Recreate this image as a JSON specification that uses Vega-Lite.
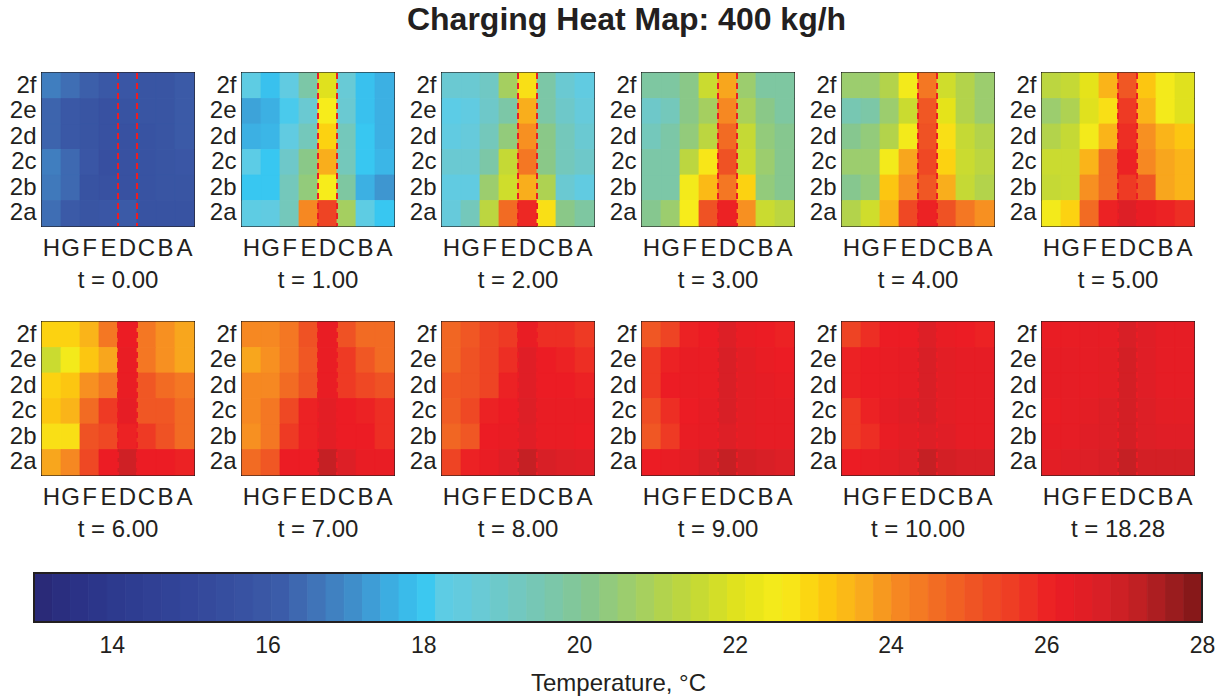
{
  "$schema": "https://vega.github.io/schema/vega-lite/v6.json",
  "padding": {"left": 8, "top": 4, "right": 4, "bottom": 4},
  "background": "white",
  "title": {"text": "Charging Heat Map: 400 kg/h", "fontSize": 32, "font": "Liberation Sans", "fontWeight": "bold", "color": "#231f20", "anchor": "middle", "offset": 34, "dx": 15},
  "config": {
    "font": "Liberation Sans",
    "view": {"stroke": "#231f20", "strokeWidth": 2},
    "axis": {"labelColor": "#231f20", "tickColor": "#231f20", "domain": false, "grid": false, "zindex": 1}
  },
  "datasets": {
    "cells": [
      {"t":0,"r":"2f","c":"H","v":16.7},{"t":0,"r":"2f","c":"G","v":16.4},{"t":0,"r":"2f","c":"F","v":16.1},{"t":0,"r":"2f","c":"E","v":15.9},{"t":0,"r":"2f","c":"D","v":15.8},{"t":0,"r":"2f","c":"C","v":15.7},{"t":0,"r":"2f","c":"B","v":15.7},{"t":0,"r":"2f","c":"A","v":16.0},
      {"t":0,"r":"2e","c":"H","v":16.2},{"t":0,"r":"2e","c":"G","v":15.9},{"t":0,"r":"2e","c":"F","v":15.7},{"t":0,"r":"2e","c":"E","v":15.5},{"t":0,"r":"2e","c":"D","v":15.6},{"t":0,"r":"2e","c":"C","v":15.7},{"t":0,"r":"2e","c":"B","v":15.7},{"t":0,"r":"2e","c":"A","v":16.0},
      {"t":0,"r":"2d","c":"H","v":16.2},{"t":0,"r":"2d","c":"G","v":15.9},{"t":0,"r":"2d","c":"F","v":15.7},{"t":0,"r":"2d","c":"E","v":15.5},{"t":0,"r":"2d","c":"D","v":15.5},{"t":0,"r":"2d","c":"C","v":15.6},{"t":0,"r":"2d","c":"B","v":15.7},{"t":0,"r":"2d","c":"A","v":16.0},
      {"t":0,"r":"2c","c":"H","v":16.7},{"t":0,"r":"2c","c":"G","v":16.3},{"t":0,"r":"2c","c":"F","v":15.8},{"t":0,"r":"2c","c":"E","v":15.4},{"t":0,"r":"2c","c":"D","v":15.5},{"t":0,"r":"2c","c":"C","v":15.6},{"t":0,"r":"2c","c":"B","v":15.7},{"t":0,"r":"2c","c":"A","v":15.8},
      {"t":0,"r":"2b","c":"H","v":16.6},{"t":0,"r":"2b","c":"G","v":16.3},{"t":0,"r":"2b","c":"F","v":15.6},{"t":0,"r":"2b","c":"E","v":15.5},{"t":0,"r":"2b","c":"D","v":15.5},{"t":0,"r":"2b","c":"C","v":15.6},{"t":0,"r":"2b","c":"B","v":15.7},{"t":0,"r":"2b","c":"A","v":15.7},
      {"t":0,"r":"2a","c":"H","v":16.4},{"t":0,"r":"2a","c":"G","v":16.0},{"t":0,"r":"2a","c":"F","v":15.7},{"t":0,"r":"2a","c":"E","v":15.8},{"t":0,"r":"2a","c":"D","v":16.0},{"t":0,"r":"2a","c":"C","v":15.6},{"t":0,"r":"2a","c":"B","v":15.6},{"t":0,"r":"2a","c":"A","v":15.6},

      {"t":1,"r":"2f","c":"H","v":18.2},{"t":1,"r":"2f","c":"G","v":17.8},{"t":1,"r":"2f","c":"F","v":18.3},{"t":1,"r":"2f","c":"E","v":19.6},{"t":1,"r":"2f","c":"D","v":21.9},{"t":1,"r":"2f","c":"C","v":18.6},{"t":1,"r":"2f","c":"B","v":17.8},{"t":1,"r":"2f","c":"A","v":17.5},
      {"t":1,"r":"2e","c":"H","v":17.3},{"t":1,"r":"2e","c":"G","v":17.5},{"t":1,"r":"2e","c":"F","v":18.0},{"t":1,"r":"2e","c":"E","v":18.7},{"t":1,"r":"2e","c":"D","v":22.5},{"t":1,"r":"2e","c":"C","v":18.7},{"t":1,"r":"2e","c":"B","v":17.8},{"t":1,"r":"2e","c":"A","v":17.5},
      {"t":1,"r":"2d","c":"H","v":17.5},{"t":1,"r":"2d","c":"G","v":17.6},{"t":1,"r":"2d","c":"F","v":18.3},{"t":1,"r":"2d","c":"E","v":19.2},{"t":1,"r":"2d","c":"D","v":22.9},{"t":1,"r":"2d","c":"C","v":19.2},{"t":1,"r":"2d","c":"B","v":17.9},{"t":1,"r":"2d","c":"A","v":17.5},
      {"t":1,"r":"2c","c":"H","v":18.1},{"t":1,"r":"2c","c":"G","v":17.9},{"t":1,"r":"2c","c":"F","v":18.9},{"t":1,"r":"2c","c":"E","v":20.1},{"t":1,"r":"2c","c":"D","v":23.5},{"t":1,"r":"2c","c":"C","v":19.2},{"t":1,"r":"2c","c":"B","v":17.9},{"t":1,"r":"2c","c":"A","v":17.6},
      {"t":1,"r":"2b","c":"H","v":17.9},{"t":1,"r":"2b","c":"G","v":17.9},{"t":1,"r":"2b","c":"F","v":19.2},{"t":1,"r":"2b","c":"E","v":20.3},{"t":1,"r":"2b","c":"D","v":22.5},{"t":1,"r":"2b","c":"C","v":19.7},{"t":1,"r":"2b","c":"B","v":17.5},{"t":1,"r":"2b","c":"A","v":17.1},
      {"t":1,"r":"2a","c":"H","v":18.2},{"t":1,"r":"2a","c":"G","v":18.3},{"t":1,"r":"2a","c":"F","v":19.2},{"t":1,"r":"2a","c":"E","v":24.0},{"t":1,"r":"2a","c":"D","v":25.3},{"t":1,"r":"2a","c":"C","v":20.7},{"t":1,"r":"2a","c":"B","v":18.2},{"t":1,"r":"2a","c":"A","v":17.9},

      {"t":2,"r":"2f","c":"H","v":18.7},{"t":2,"r":"2f","c":"G","v":18.7},{"t":2,"r":"2f","c":"F","v":19.0},{"t":2,"r":"2f","c":"E","v":20.7},{"t":2,"r":"2f","c":"D","v":22.7},{"t":2,"r":"2f","c":"C","v":19.6},{"t":2,"r":"2f","c":"B","v":18.7},{"t":2,"r":"2f","c":"A","v":18.3},
      {"t":2,"r":"2e","c":"H","v":18.1},{"t":2,"r":"2e","c":"G","v":18.3},{"t":2,"r":"2e","c":"F","v":18.9},{"t":2,"r":"2e","c":"E","v":19.6},{"t":2,"r":"2e","c":"D","v":23.5},{"t":2,"r":"2e","c":"C","v":19.6},{"t":2,"r":"2e","c":"B","v":18.9},{"t":2,"r":"2e","c":"A","v":18.5},
      {"t":2,"r":"2d","c":"H","v":18.3},{"t":2,"r":"2d","c":"G","v":18.5},{"t":2,"r":"2d","c":"F","v":19.2},{"t":2,"r":"2d","c":"E","v":20.3},{"t":2,"r":"2d","c":"D","v":23.9},{"t":2,"r":"2d","c":"C","v":20.1},{"t":2,"r":"2d","c":"B","v":19.2},{"t":2,"r":"2d","c":"A","v":18.7},
      {"t":2,"r":"2c","c":"H","v":18.7},{"t":2,"r":"2c","c":"G","v":18.7},{"t":2,"r":"2c","c":"F","v":19.6},{"t":2,"r":"2c","c":"E","v":21.4},{"t":2,"r":"2c","c":"D","v":24.3},{"t":2,"r":"2c","c":"C","v":20.1},{"t":2,"r":"2c","c":"B","v":19.2},{"t":2,"r":"2c","c":"A","v":18.9},
      {"t":2,"r":"2b","c":"H","v":18.3},{"t":2,"r":"2b","c":"G","v":18.3},{"t":2,"r":"2b","c":"F","v":20.5},{"t":2,"r":"2b","c":"E","v":21.6},{"t":2,"r":"2b","c":"D","v":23.5},{"t":2,"r":"2b","c":"C","v":20.9},{"t":2,"r":"2b","c":"B","v":18.7},{"t":2,"r":"2b","c":"A","v":18.3},
      {"t":2,"r":"2a","c":"H","v":18.5},{"t":2,"r":"2a","c":"G","v":19.2},{"t":2,"r":"2a","c":"F","v":21.2},{"t":2,"r":"2a","c":"E","v":24.5},{"t":2,"r":"2a","c":"D","v":25.8},{"t":2,"r":"2a","c":"C","v":22.7},{"t":2,"r":"2a","c":"B","v":20.1},{"t":2,"r":"2a","c":"A","v":19.7},

      {"t":3,"r":"2f","c":"H","v":19.7},{"t":3,"r":"2f","c":"G","v":19.7},{"t":3,"r":"2f","c":"F","v":20.1},{"t":3,"r":"2f","c":"E","v":21.5},{"t":3,"r":"2f","c":"D","v":23.6},{"t":3,"r":"2f","c":"C","v":20.5},{"t":3,"r":"2f","c":"B","v":19.7},{"t":3,"r":"2f","c":"A","v":19.7},
      {"t":3,"r":"2e","c":"H","v":18.9},{"t":3,"r":"2e","c":"G","v":19.2},{"t":3,"r":"2e","c":"F","v":20.1},{"t":3,"r":"2e","c":"E","v":20.7},{"t":3,"r":"2e","c":"D","v":24.0},{"t":3,"r":"2e","c":"C","v":20.8},{"t":3,"r":"2e","c":"B","v":20.1},{"t":3,"r":"2e","c":"A","v":19.7},
      {"t":3,"r":"2d","c":"H","v":19.2},{"t":3,"r":"2d","c":"G","v":19.6},{"t":3,"r":"2d","c":"F","v":20.3},{"t":3,"r":"2d","c":"E","v":21.2},{"t":3,"r":"2d","c":"D","v":24.5},{"t":3,"r":"2d","c":"C","v":21.4},{"t":3,"r":"2d","c":"B","v":20.3},{"t":3,"r":"2d","c":"A","v":20.0},
      {"t":3,"r":"2c","c":"H","v":19.6},{"t":3,"r":"2c","c":"G","v":19.6},{"t":3,"r":"2c","c":"F","v":21.2},{"t":3,"r":"2c","c":"E","v":22.6},{"t":3,"r":"2c","c":"D","v":25.0},{"t":3,"r":"2c","c":"C","v":21.5},{"t":3,"r":"2c","c":"B","v":20.5},{"t":3,"r":"2c","c":"A","v":20.0},
      {"t":3,"r":"2b","c":"H","v":19.6},{"t":3,"r":"2b","c":"G","v":19.6},{"t":3,"r":"2b","c":"F","v":22.4},{"t":3,"r":"2b","c":"E","v":23.3},{"t":3,"r":"2b","c":"D","v":24.3},{"t":3,"r":"2b","c":"C","v":22.9},{"t":3,"r":"2b","c":"B","v":20.3},{"t":3,"r":"2b","c":"A","v":20.0},
      {"t":3,"r":"2a","c":"H","v":20.0},{"t":3,"r":"2a","c":"G","v":20.5},{"t":3,"r":"2a","c":"F","v":22.5},{"t":3,"r":"2a","c":"E","v":25.0},{"t":3,"r":"2a","c":"D","v":25.9},{"t":3,"r":"2a","c":"C","v":23.9},{"t":3,"r":"2a","c":"B","v":21.5},{"t":3,"r":"2a","c":"A","v":21.2},

      {"t":4,"r":"2f","c":"H","v":20.5},{"t":4,"r":"2f","c":"G","v":20.5},{"t":4,"r":"2f","c":"F","v":21.0},{"t":4,"r":"2f","c":"E","v":22.4},{"t":4,"r":"2f","c":"D","v":24.3},{"t":4,"r":"2f","c":"C","v":21.6},{"t":4,"r":"2f","c":"B","v":21.0},{"t":4,"r":"2f","c":"A","v":20.5},
      {"t":4,"r":"2e","c":"H","v":19.4},{"t":4,"r":"2e","c":"G","v":19.6},{"t":4,"r":"2e","c":"F","v":20.5},{"t":4,"r":"2e","c":"E","v":21.5},{"t":4,"r":"2e","c":"D","v":24.9},{"t":4,"r":"2e","c":"C","v":22.0},{"t":4,"r":"2e","c":"B","v":21.0},{"t":4,"r":"2e","c":"A","v":20.5},
      {"t":4,"r":"2d","c":"H","v":20.0},{"t":4,"r":"2d","c":"G","v":20.3},{"t":4,"r":"2d","c":"F","v":21.0},{"t":4,"r":"2d","c":"E","v":22.4},{"t":4,"r":"2d","c":"D","v":25.0},{"t":4,"r":"2d","c":"C","v":22.7},{"t":4,"r":"2d","c":"B","v":21.4},{"t":4,"r":"2d","c":"A","v":21.0},
      {"t":4,"r":"2c","c":"H","v":20.5},{"t":4,"r":"2c","c":"G","v":20.5},{"t":4,"r":"2c","c":"F","v":22.4},{"t":4,"r":"2c","c":"E","v":23.6},{"t":4,"r":"2c","c":"D","v":25.2},{"t":4,"r":"2c","c":"C","v":22.9},{"t":4,"r":"2c","c":"B","v":21.5},{"t":4,"r":"2c","c":"A","v":21.2},
      {"t":4,"r":"2b","c":"H","v":20.0},{"t":4,"r":"2b","c":"G","v":20.3},{"t":4,"r":"2b","c":"F","v":23.1},{"t":4,"r":"2b","c":"E","v":23.9},{"t":4,"r":"2b","c":"D","v":24.9},{"t":4,"r":"2b","c":"C","v":23.5},{"t":4,"r":"2b","c":"B","v":21.4},{"t":4,"r":"2b","c":"A","v":21.0},
      {"t":4,"r":"2a","c":"H","v":21.0},{"t":4,"r":"2a","c":"G","v":21.6},{"t":4,"r":"2a","c":"F","v":23.4},{"t":4,"r":"2a","c":"E","v":25.2},{"t":4,"r":"2a","c":"D","v":25.9},{"t":4,"r":"2a","c":"C","v":25.0},{"t":4,"r":"2a","c":"B","v":24.3},{"t":4,"r":"2a","c":"A","v":23.9},

      {"t":5,"r":"2f","c":"H","v":21.2},{"t":5,"r":"2f","c":"G","v":21.4},{"t":5,"r":"2f","c":"F","v":22.0},{"t":5,"r":"2f","c":"E","v":23.4},{"t":5,"r":"2f","c":"D","v":24.9},{"t":5,"r":"2f","c":"C","v":23.1},{"t":5,"r":"2f","c":"B","v":22.4},{"t":5,"r":"2f","c":"A","v":21.9},
      {"t":5,"r":"2e","c":"H","v":20.5},{"t":5,"r":"2e","c":"G","v":20.9},{"t":5,"r":"2e","c":"F","v":21.9},{"t":5,"r":"2e","c":"E","v":22.7},{"t":5,"r":"2e","c":"D","v":25.5},{"t":5,"r":"2e","c":"C","v":23.4},{"t":5,"r":"2e","c":"B","v":22.4},{"t":5,"r":"2e","c":"A","v":21.9},
      {"t":5,"r":"2d","c":"H","v":21.0},{"t":5,"r":"2d","c":"G","v":21.4},{"t":5,"r":"2d","c":"F","v":22.4},{"t":5,"r":"2d","c":"E","v":23.4},{"t":5,"r":"2d","c":"D","v":25.7},{"t":5,"r":"2d","c":"C","v":23.9},{"t":5,"r":"2d","c":"B","v":23.4},{"t":5,"r":"2d","c":"A","v":23.1},
      {"t":5,"r":"2c","c":"H","v":21.5},{"t":5,"r":"2c","c":"G","v":21.5},{"t":5,"r":"2c","c":"F","v":23.4},{"t":5,"r":"2c","c":"E","v":24.5},{"t":5,"r":"2c","c":"D","v":25.9},{"t":5,"r":"2c","c":"C","v":24.0},{"t":5,"r":"2c","c":"B","v":23.6},{"t":5,"r":"2c","c":"A","v":23.4},
      {"t":5,"r":"2b","c":"H","v":21.4},{"t":5,"r":"2b","c":"G","v":21.5},{"t":5,"r":"2b","c":"F","v":23.9},{"t":5,"r":"2b","c":"E","v":24.5},{"t":5,"r":"2b","c":"D","v":25.5},{"t":5,"r":"2b","c":"C","v":24.9},{"t":5,"r":"2b","c":"B","v":23.6},{"t":5,"r":"2b","c":"A","v":23.4},
      {"t":5,"r":"2a","c":"H","v":22.4},{"t":5,"r":"2a","c":"G","v":22.9},{"t":5,"r":"2a","c":"F","v":24.5},{"t":5,"r":"2a","c":"E","v":25.9},{"t":5,"r":"2a","c":"D","v":26.5},{"t":5,"r":"2a","c":"C","v":26.1},{"t":5,"r":"2a","c":"B","v":25.9},{"t":5,"r":"2a","c":"A","v":25.7},

      {"t":6,"r":"2f","c":"H","v":22.9},{"t":6,"r":"2f","c":"G","v":22.9},{"t":6,"r":"2f","c":"F","v":23.4},{"t":6,"r":"2f","c":"E","v":24.3},{"t":6,"r":"2f","c":"D","v":26.0},{"t":6,"r":"2f","c":"C","v":24.3},{"t":6,"r":"2f","c":"B","v":23.9},{"t":6,"r":"2f","c":"A","v":23.6},
      {"t":6,"r":"2e","c":"H","v":21.5},{"t":6,"r":"2e","c":"G","v":22.4},{"t":6,"r":"2e","c":"F","v":23.1},{"t":6,"r":"2e","c":"E","v":23.6},{"t":6,"r":"2e","c":"D","v":26.1},{"t":6,"r":"2e","c":"C","v":24.3},{"t":6,"r":"2e","c":"B","v":23.9},{"t":6,"r":"2e","c":"A","v":23.6},
      {"t":6,"r":"2d","c":"H","v":22.9},{"t":6,"r":"2d","c":"G","v":23.1},{"t":6,"r":"2d","c":"F","v":23.9},{"t":6,"r":"2d","c":"E","v":24.3},{"t":6,"r":"2d","c":"D","v":26.1},{"t":6,"r":"2d","c":"C","v":24.9},{"t":6,"r":"2d","c":"B","v":24.5},{"t":6,"r":"2d","c":"A","v":24.3},
      {"t":6,"r":"2c","c":"H","v":23.1},{"t":6,"r":"2c","c":"G","v":23.4},{"t":6,"r":"2c","c":"F","v":24.5},{"t":6,"r":"2c","c":"E","v":25.5},{"t":6,"r":"2c","c":"D","v":26.2},{"t":6,"r":"2c","c":"C","v":24.9},{"t":6,"r":"2c","c":"B","v":24.9},{"t":6,"r":"2c","c":"A","v":24.5},
      {"t":6,"r":"2b","c":"H","v":22.7},{"t":6,"r":"2b","c":"G","v":22.7},{"t":6,"r":"2b","c":"F","v":25.0},{"t":6,"r":"2b","c":"E","v":25.2},{"t":6,"r":"2b","c":"D","v":25.9},{"t":6,"r":"2b","c":"C","v":25.5},{"t":6,"r":"2b","c":"B","v":25.0},{"t":6,"r":"2b","c":"A","v":24.5},
      {"t":6,"r":"2a","c":"H","v":23.6},{"t":6,"r":"2a","c":"G","v":24.0},{"t":6,"r":"2a","c":"F","v":25.2},{"t":6,"r":"2a","c":"E","v":26.0},{"t":6,"r":"2a","c":"D","v":26.8},{"t":6,"r":"2a","c":"C","v":26.0},{"t":6,"r":"2a","c":"B","v":26.0},{"t":6,"r":"2a","c":"A","v":25.9},

      {"t":7,"r":"2f","c":"H","v":24.0},{"t":7,"r":"2f","c":"G","v":24.0},{"t":7,"r":"2f","c":"F","v":24.3},{"t":7,"r":"2f","c":"E","v":25.0},{"t":7,"r":"2f","c":"D","v":26.1},{"t":7,"r":"2f","c":"C","v":25.0},{"t":7,"r":"2f","c":"B","v":24.5},{"t":7,"r":"2f","c":"A","v":24.5},
      {"t":7,"r":"2e","c":"H","v":23.6},{"t":7,"r":"2e","c":"G","v":23.9},{"t":7,"r":"2e","c":"F","v":24.3},{"t":7,"r":"2e","c":"E","v":24.9},{"t":7,"r":"2e","c":"D","v":26.1},{"t":7,"r":"2e","c":"C","v":25.5},{"t":7,"r":"2e","c":"B","v":24.9},{"t":7,"r":"2e","c":"A","v":24.5},
      {"t":7,"r":"2d","c":"H","v":24.0},{"t":7,"r":"2d","c":"G","v":24.0},{"t":7,"r":"2d","c":"F","v":24.5},{"t":7,"r":"2d","c":"E","v":25.0},{"t":7,"r":"2d","c":"D","v":26.1},{"t":7,"r":"2d","c":"C","v":25.5},{"t":7,"r":"2d","c":"B","v":25.2},{"t":7,"r":"2d","c":"A","v":25.0},
      {"t":7,"r":"2c","c":"H","v":24.0},{"t":7,"r":"2c","c":"G","v":24.3},{"t":7,"r":"2c","c":"F","v":25.2},{"t":7,"r":"2c","c":"E","v":25.9},{"t":7,"r":"2c","c":"D","v":26.3},{"t":7,"r":"2c","c":"C","v":26.0},{"t":7,"r":"2c","c":"B","v":25.9},{"t":7,"r":"2c","c":"A","v":25.7},
      {"t":7,"r":"2b","c":"H","v":23.9},{"t":7,"r":"2b","c":"G","v":24.3},{"t":7,"r":"2b","c":"F","v":25.5},{"t":7,"r":"2b","c":"E","v":25.9},{"t":7,"r":"2b","c":"D","v":26.3},{"t":7,"r":"2b","c":"C","v":26.0},{"t":7,"r":"2b","c":"B","v":26.0},{"t":7,"r":"2b","c":"A","v":25.7},
      {"t":7,"r":"2a","c":"H","v":24.5},{"t":7,"r":"2a","c":"G","v":24.9},{"t":7,"r":"2a","c":"F","v":26.0},{"t":7,"r":"2a","c":"E","v":26.0},{"t":7,"r":"2a","c":"D","v":27.0},{"t":7,"r":"2a","c":"C","v":26.5},{"t":7,"r":"2a","c":"B","v":26.1},{"t":7,"r":"2a","c":"A","v":26.1},

      {"t":8,"r":"2f","c":"H","v":24.6},{"t":8,"r":"2f","c":"G","v":24.9},{"t":8,"r":"2f","c":"F","v":25.3},{"t":8,"r":"2f","c":"E","v":25.5},{"t":8,"r":"2f","c":"D","v":26.1},{"t":8,"r":"2f","c":"C","v":25.7},{"t":8,"r":"2f","c":"B","v":25.7},{"t":8,"r":"2f","c":"A","v":25.5},
      {"t":8,"r":"2e","c":"H","v":24.6},{"t":8,"r":"2e","c":"G","v":25.0},{"t":8,"r":"2e","c":"F","v":25.3},{"t":8,"r":"2e","c":"E","v":25.7},{"t":8,"r":"2e","c":"D","v":26.4},{"t":8,"r":"2e","c":"C","v":26.0},{"t":8,"r":"2e","c":"B","v":25.9},{"t":8,"r":"2e","c":"A","v":25.7},
      {"t":8,"r":"2d","c":"H","v":24.9},{"t":8,"r":"2d","c":"G","v":25.0},{"t":8,"r":"2d","c":"F","v":25.3},{"t":8,"r":"2d","c":"E","v":25.9},{"t":8,"r":"2d","c":"D","v":26.4},{"t":8,"r":"2d","c":"C","v":26.0},{"t":8,"r":"2d","c":"B","v":26.0},{"t":8,"r":"2d","c":"A","v":25.9},
      {"t":8,"r":"2c","c":"H","v":24.8},{"t":8,"r":"2c","c":"G","v":25.2},{"t":8,"r":"2c","c":"F","v":25.9},{"t":8,"r":"2c","c":"E","v":26.0},{"t":8,"r":"2c","c":"D","v":26.5},{"t":8,"r":"2c","c":"C","v":26.1},{"t":8,"r":"2c","c":"B","v":26.1},{"t":8,"r":"2c","c":"A","v":26.1},
      {"t":8,"r":"2b","c":"H","v":24.6},{"t":8,"r":"2b","c":"G","v":24.9},{"t":8,"r":"2b","c":"F","v":26.0},{"t":8,"r":"2b","c":"E","v":26.1},{"t":8,"r":"2b","c":"D","v":26.4},{"t":8,"r":"2b","c":"C","v":26.1},{"t":8,"r":"2b","c":"B","v":26.1},{"t":8,"r":"2b","c":"A","v":26.0},
      {"t":8,"r":"2a","c":"H","v":25.3},{"t":8,"r":"2a","c":"G","v":25.9},{"t":8,"r":"2a","c":"F","v":26.1},{"t":8,"r":"2a","c":"E","v":26.4},{"t":8,"r":"2a","c":"D","v":27.0},{"t":8,"r":"2a","c":"C","v":26.6},{"t":8,"r":"2a","c":"B","v":26.5},{"t":8,"r":"2a","c":"A","v":26.4},

      {"t":9,"r":"2f","c":"H","v":24.9},{"t":9,"r":"2f","c":"G","v":25.3},{"t":9,"r":"2f","c":"F","v":25.9},{"t":9,"r":"2f","c":"E","v":26.0},{"t":9,"r":"2f","c":"D","v":26.5},{"t":9,"r":"2f","c":"C","v":26.1},{"t":9,"r":"2f","c":"B","v":26.0},{"t":9,"r":"2f","c":"A","v":25.9},
      {"t":9,"r":"2e","c":"H","v":25.5},{"t":9,"r":"2e","c":"G","v":25.9},{"t":9,"r":"2e","c":"F","v":26.1},{"t":9,"r":"2e","c":"E","v":26.1},{"t":9,"r":"2e","c":"D","v":26.6},{"t":9,"r":"2e","c":"C","v":26.3},{"t":9,"r":"2e","c":"B","v":26.1},{"t":9,"r":"2e","c":"A","v":26.0},
      {"t":9,"r":"2d","c":"H","v":25.5},{"t":9,"r":"2d","c":"G","v":26.0},{"t":9,"r":"2d","c":"F","v":26.1},{"t":9,"r":"2d","c":"E","v":26.1},{"t":9,"r":"2d","c":"D","v":26.6},{"t":9,"r":"2d","c":"C","v":26.3},{"t":9,"r":"2d","c":"B","v":26.2},{"t":9,"r":"2d","c":"A","v":26.1},
      {"t":9,"r":"2c","c":"H","v":25.1},{"t":9,"r":"2c","c":"G","v":25.7},{"t":9,"r":"2c","c":"F","v":26.0},{"t":9,"r":"2c","c":"E","v":26.2},{"t":9,"r":"2c","c":"D","v":26.6},{"t":9,"r":"2c","c":"C","v":26.3},{"t":9,"r":"2c","c":"B","v":26.2},{"t":9,"r":"2c","c":"A","v":26.2},
      {"t":9,"r":"2b","c":"H","v":24.9},{"t":9,"r":"2b","c":"G","v":25.5},{"t":9,"r":"2b","c":"F","v":26.1},{"t":9,"r":"2b","c":"E","v":26.2},{"t":9,"r":"2b","c":"D","v":26.5},{"t":9,"r":"2b","c":"C","v":26.3},{"t":9,"r":"2b","c":"B","v":26.2},{"t":9,"r":"2b","c":"A","v":26.2},
      {"t":9,"r":"2a","c":"H","v":26.0},{"t":9,"r":"2a","c":"G","v":26.1},{"t":9,"r":"2a","c":"F","v":26.3},{"t":9,"r":"2a","c":"E","v":26.6},{"t":9,"r":"2a","c":"D","v":27.0},{"t":9,"r":"2a","c":"C","v":26.7},{"t":9,"r":"2a","c":"B","v":26.6},{"t":9,"r":"2a","c":"A","v":26.5},

      {"t":10,"r":"2f","c":"H","v":25.3},{"t":10,"r":"2f","c":"G","v":25.7},{"t":10,"r":"2f","c":"F","v":26.0},{"t":10,"r":"2f","c":"E","v":26.0},{"t":10,"r":"2f","c":"D","v":26.5},{"t":10,"r":"2f","c":"C","v":26.1},{"t":10,"r":"2f","c":"B","v":26.0},{"t":10,"r":"2f","c":"A","v":25.9},
      {"t":10,"r":"2e","c":"H","v":25.9},{"t":10,"r":"2e","c":"G","v":26.0},{"t":10,"r":"2e","c":"F","v":26.1},{"t":10,"r":"2e","c":"E","v":26.2},{"t":10,"r":"2e","c":"D","v":26.6},{"t":10,"r":"2e","c":"C","v":26.3},{"t":10,"r":"2e","c":"B","v":26.2},{"t":10,"r":"2e","c":"A","v":26.2},
      {"t":10,"r":"2d","c":"H","v":25.9},{"t":10,"r":"2d","c":"G","v":26.0},{"t":10,"r":"2d","c":"F","v":26.1},{"t":10,"r":"2d","c":"E","v":26.2},{"t":10,"r":"2d","c":"D","v":26.6},{"t":10,"r":"2d","c":"C","v":26.3},{"t":10,"r":"2d","c":"B","v":26.2},{"t":10,"r":"2d","c":"A","v":26.2},
      {"t":10,"r":"2c","c":"H","v":25.5},{"t":10,"r":"2c","c":"G","v":25.9},{"t":10,"r":"2c","c":"F","v":26.2},{"t":10,"r":"2c","c":"E","v":26.4},{"t":10,"r":"2c","c":"D","v":26.6},{"t":10,"r":"2c","c":"C","v":26.3},{"t":10,"r":"2c","c":"B","v":26.2},{"t":10,"r":"2c","c":"A","v":26.2},
      {"t":10,"r":"2b","c":"H","v":25.5},{"t":10,"r":"2b","c":"G","v":25.7},{"t":10,"r":"2b","c":"F","v":26.1},{"t":10,"r":"2b","c":"E","v":26.3},{"t":10,"r":"2b","c":"D","v":26.5},{"t":10,"r":"2b","c":"C","v":26.4},{"t":10,"r":"2b","c":"B","v":26.2},{"t":10,"r":"2b","c":"A","v":26.2},
      {"t":10,"r":"2a","c":"H","v":26.0},{"t":10,"r":"2a","c":"G","v":26.1},{"t":10,"r":"2a","c":"F","v":26.3},{"t":10,"r":"2a","c":"E","v":26.5},{"t":10,"r":"2a","c":"D","v":27.0},{"t":10,"r":"2a","c":"C","v":26.7},{"t":10,"r":"2a","c":"B","v":26.6},{"t":10,"r":"2a","c":"A","v":26.6},

      {"t":18.28,"r":"2f","c":"H","v":26.1},{"t":18.28,"r":"2f","c":"G","v":26.1},{"t":18.28,"r":"2f","c":"F","v":26.2},{"t":18.28,"r":"2f","c":"E","v":26.2},{"t":18.28,"r":"2f","c":"D","v":26.6},{"t":18.28,"r":"2f","c":"C","v":26.4},{"t":18.28,"r":"2f","c":"B","v":26.2},{"t":18.28,"r":"2f","c":"A","v":26.2},
      {"t":18.28,"r":"2e","c":"H","v":26.2},{"t":18.28,"r":"2e","c":"G","v":26.2},{"t":18.28,"r":"2e","c":"F","v":26.2},{"t":18.28,"r":"2e","c":"E","v":26.3},{"t":18.28,"r":"2e","c":"D","v":26.7},{"t":18.28,"r":"2e","c":"C","v":26.4},{"t":18.28,"r":"2e","c":"B","v":26.2},{"t":18.28,"r":"2e","c":"A","v":26.2},
      {"t":18.28,"r":"2d","c":"H","v":26.2},{"t":18.28,"r":"2d","c":"G","v":26.2},{"t":18.28,"r":"2d","c":"F","v":26.2},{"t":18.28,"r":"2d","c":"E","v":26.3},{"t":18.28,"r":"2d","c":"D","v":26.7},{"t":18.28,"r":"2d","c":"C","v":26.4},{"t":18.28,"r":"2d","c":"B","v":26.2},{"t":18.28,"r":"2d","c":"A","v":26.2},
      {"t":18.28,"r":"2c","c":"H","v":26.1},{"t":18.28,"r":"2c","c":"G","v":26.2},{"t":18.28,"r":"2c","c":"F","v":26.3},{"t":18.28,"r":"2c","c":"E","v":26.5},{"t":18.28,"r":"2c","c":"D","v":26.7},{"t":18.28,"r":"2c","c":"C","v":26.5},{"t":18.28,"r":"2c","c":"B","v":26.3},{"t":18.28,"r":"2c","c":"A","v":26.3},
      {"t":18.28,"r":"2b","c":"H","v":26.2},{"t":18.28,"r":"2b","c":"G","v":26.2},{"t":18.28,"r":"2b","c":"F","v":26.4},{"t":18.28,"r":"2b","c":"E","v":26.5},{"t":18.28,"r":"2b","c":"D","v":26.7},{"t":18.28,"r":"2b","c":"C","v":26.5},{"t":18.28,"r":"2b","c":"B","v":26.4},{"t":18.28,"r":"2b","c":"A","v":26.4},
      {"t":18.28,"r":"2a","c":"H","v":26.3},{"t":18.28,"r":"2a","c":"G","v":26.4},{"t":18.28,"r":"2a","c":"F","v":26.5},{"t":18.28,"r":"2a","c":"E","v":26.6},{"t":18.28,"r":"2a","c":"D","v":27.0},{"t":18.28,"r":"2a","c":"C","v":26.7},{"t":18.28,"r":"2a","c":"B","v":26.7},{"t":18.28,"r":"2a","c":"A","v":26.7}
    ],
    "bands": [
      {"lo":13,"hi":13.234375},{"lo":13.234375,"hi":13.46875},{"lo":13.46875,"hi":13.703125},{"lo":13.703125,"hi":13.9375},
      {"lo":13.9375,"hi":14.171875},{"lo":14.171875,"hi":14.40625},{"lo":14.40625,"hi":14.640625},{"lo":14.640625,"hi":14.875},
      {"lo":14.875,"hi":15.109375},{"lo":15.109375,"hi":15.34375},{"lo":15.34375,"hi":15.578125},{"lo":15.578125,"hi":15.8125},
      {"lo":15.8125,"hi":16.046875},{"lo":16.046875,"hi":16.28125},{"lo":16.28125,"hi":16.515625},{"lo":16.515625,"hi":16.75},
      {"lo":16.75,"hi":16.984375},{"lo":16.984375,"hi":17.21875},{"lo":17.21875,"hi":17.453125},{"lo":17.453125,"hi":17.6875},
      {"lo":17.6875,"hi":17.921875},{"lo":17.921875,"hi":18.15625},{"lo":18.15625,"hi":18.390625},{"lo":18.390625,"hi":18.625},
      {"lo":18.625,"hi":18.859375},{"lo":18.859375,"hi":19.09375},{"lo":19.09375,"hi":19.328125},{"lo":19.328125,"hi":19.5625},
      {"lo":19.5625,"hi":19.796875},{"lo":19.796875,"hi":20.03125},{"lo":20.03125,"hi":20.265625},{"lo":20.265625,"hi":20.5},
      {"lo":20.5,"hi":20.734375},{"lo":20.734375,"hi":20.96875},{"lo":20.96875,"hi":21.203125},{"lo":21.203125,"hi":21.4375},
      {"lo":21.4375,"hi":21.671875},{"lo":21.671875,"hi":21.90625},{"lo":21.90625,"hi":22.140625},{"lo":22.140625,"hi":22.375},
      {"lo":22.375,"hi":22.609375},{"lo":22.609375,"hi":22.84375},{"lo":22.84375,"hi":23.078125},{"lo":23.078125,"hi":23.3125},
      {"lo":23.3125,"hi":23.546875},{"lo":23.546875,"hi":23.78125},{"lo":23.78125,"hi":24.015625},{"lo":24.015625,"hi":24.25},
      {"lo":24.25,"hi":24.484375},{"lo":24.484375,"hi":24.71875},{"lo":24.71875,"hi":24.953125},{"lo":24.953125,"hi":25.1875},
      {"lo":25.1875,"hi":25.421875},{"lo":25.421875,"hi":25.65625},{"lo":25.65625,"hi":25.890625},{"lo":25.890625,"hi":26.125},
      {"lo":26.125,"hi":26.359375},{"lo":26.359375,"hi":26.59375},{"lo":26.59375,"hi":26.828125},{"lo":26.828125,"hi":27.0625},
      {"lo":27.0625,"hi":27.296875},{"lo":27.296875,"hi":27.53125},{"lo":27.53125,"hi":27.765625},{"lo":27.765625,"hi":28}
    ]
  },
  "columns": 1,
  "spacing": 29,
  "concat": [
    {
      "data": {"name": "cells"},
      "facet": {
        "field": "t", "type": "ordinal",
        "header": {"title": null, "labelOrient": "bottom", "labelExpr": "'t = ' + format(datum.value, '.2f')", "labelFontSize": 24, "labelColor": "#231f20", "labelPadding": 9, "labelFont": "Liberation Sans"}
      },
      "columns": 6,
      "spacing": {"column": 12, "row": 26},
      "resolve": {"axis": {"x": "independent", "y": "independent"}},
      "spec": {
        "width": 152,
        "height": 153,
        "layer": [
          {
            "mark": {"type": "rect", "strokeWidth": 0.8},
            "encoding": {
              "x": {"field": "c", "type": "nominal", "sort": ["H","G","F","E","D","C","B","A"], "title": null,
                    "axis": {"labelAngle": 0, "labelFontSize": 24, "tickSize": -4, "labelPadding": 14, "domain": false}},
              "y": {"field": "r", "type": "nominal", "sort": ["2f","2e","2d","2c","2b","2a"], "title": null,
                    "axis": {"labelFontSize": 24, "tickSize": -4, "labelPadding": 10, "domain": false}},
              "color": {"field": "v", "type": "quantitative", "legend": null,
                "scale": {
                  "domain": [13, 13.5, 14, 15, 16, 16.5, 17, 17.5, 17.9, 18.1, 18.5, 19, 19.5, 20, 20.5, 21, 21.5, 22, 22.5, 23, 23.5, 24, 24.5, 25, 25.5, 26, 26.5, 27, 27.5, 28],
                  "range": ["#2a2a78","#2b3387","#2d3b8f","#34489b","#3b5aa7","#4073b7","#3f8fcb","#3cb0e3","#38c7f1","#5ccce6","#66cadb","#70c8c4","#79c7ad","#86c78f","#9ccd6e","#b3d34b","#cadb30","#e5e31a","#f7ec1b","#fdcc0e","#f9ae1c","#f68822","#f26b23","#ef5224","#ee3a24","#ec1c24","#dd1f26","#c52024","#9d1c1f","#741414"],
                  "interpolate": "rgb"
                }},
              "stroke": {"field": "v", "type": "quantitative", "legend": null,
                "scale": {
                  "domain": [13, 13.5, 14, 15, 16, 16.5, 17, 17.5, 17.9, 18.1, 18.5, 19, 19.5, 20, 20.5, 21, 21.5, 22, 22.5, 23, 23.5, 24, 24.5, 25, 25.5, 26, 26.5, 27, 27.5, 28],
                  "range": ["#2a2a78","#2b3387","#2d3b8f","#34489b","#3b5aa7","#4073b7","#3f8fcb","#3cb0e3","#38c7f1","#5ccce6","#66cadb","#70c8c4","#79c7ad","#86c78f","#9ccd6e","#b3d34b","#cadb30","#e5e31a","#f7ec1b","#fdcc0e","#f9ae1c","#f68822","#f26b23","#ef5224","#ee3a24","#ec1c24","#dd1f26","#c52024","#9d1c1f","#741414"],
                  "interpolate": "rgb"
                }}
            }
          },
          {
            "transform": [{"filter": "datum.c == 'D' && datum.r == '2a'"}],
            "mark": {"type": "rule", "color": "#ec1c24", "strokeWidth": 2, "strokeDash": [6, 4]},
            "encoding": {"x": {"field": "c", "type": "nominal", "bandPosition": 0, "sort": ["H","G","F","E","D","C","B","A"]}}
          },
          {
            "transform": [{"filter": "datum.c == 'D' && datum.r == '2a'"}],
            "mark": {"type": "rule", "color": "#ec1c24", "strokeWidth": 2, "strokeDash": [6, 4]},
            "encoding": {"x": {"field": "c", "type": "nominal", "bandPosition": 1, "sort": ["H","G","F","E","D","C","B","A"]}}
          }
        ]
      }
    },
    {
      "data": {"name": "bands"},
      "width": 1168,
      "height": 49,
      "view": {"stroke": null},
      "layer": [
        {
          "mark": {"type": "rect", "strokeWidth": 0.8},
          "encoding": {
            "x": {"field": "lo", "type": "quantitative", "scale": {"domain": [13, 28], "nice": false, "zero": false, "range": [-8, 1160]},
                  "axis": {"values": [14,16,18,20,22,24,26,28], "labelFlush": false, "labelFontSize": 23, "tickSize": -8, "labelPadding": 20, "title": "Temperature, °C", "titleFontSize": 24, "titleFontWeight": "normal", "titleColor": "#231f20", "titlePadding": 14, "domain": false}},
            "x2": {"field": "hi"},
            "y": {"datum": "bar", "type": "nominal", "axis": null},
            "color": {"field": "lo", "type": "quantitative", "legend": null,
              "scale": {
                "domain": [13, 13.5, 14, 15, 16, 16.5, 17, 17.5, 17.9, 18.1, 18.5, 19, 19.5, 20, 20.5, 21, 21.5, 22, 22.5, 23, 23.5, 24, 24.5, 25, 25.5, 26, 26.5, 27, 27.5, 28],
                "range": ["#2a2a78","#2b3387","#2d3b8f","#34489b","#3b5aa7","#4073b7","#3f8fcb","#3cb0e3","#38c7f1","#5ccce6","#66cadb","#70c8c4","#79c7ad","#86c78f","#9ccd6e","#b3d34b","#cadb30","#e5e31a","#f7ec1b","#fdcc0e","#f9ae1c","#f68822","#f26b23","#ef5224","#ee3a24","#ec1c24","#dd1f26","#c52024","#9d1c1f","#741414"],
                "interpolate": "rgb"
              }},
            "stroke": {"field": "lo", "type": "quantitative", "legend": null,
              "scale": {
                "domain": [13, 13.5, 14, 15, 16, 16.5, 17, 17.5, 17.9, 18.1, 18.5, 19, 19.5, 20, 20.5, 21, 21.5, 22, 22.5, 23, 23.5, 24, 24.5, 25, 25.5, 26, 26.5, 27, 27.5, 28],
                "range": ["#2a2a78","#2b3387","#2d3b8f","#34489b","#3b5aa7","#4073b7","#3f8fcb","#3cb0e3","#38c7f1","#5ccce6","#66cadb","#70c8c4","#79c7ad","#86c78f","#9ccd6e","#b3d34b","#cadb30","#e5e31a","#f7ec1b","#fdcc0e","#f9ae1c","#f68822","#f26b23","#ef5224","#ee3a24","#ec1c24","#dd1f26","#c52024","#9d1c1f","#741414"],
                "interpolate": "rgb"
              }}
          }
        },
        {
          "mark": {"type": "rect", "filled": false, "stroke": "#231f20", "strokeWidth": 2},
          "encoding": {
            "x": {"datum": 13, "type": "quantitative",
                  "axis": {"orient": "top", "values": [14,16,18,20,22,24,26,28], "labels": false, "tickSize": -8, "title": null, "domain": false}},
            "x2": {"datum": 28},
            "y": {"datum": "bar", "type": "nominal", "axis": null}
          }
        }
      ],
      "resolve": {"axis": {"x": "independent"}}
    }
  ]
}
